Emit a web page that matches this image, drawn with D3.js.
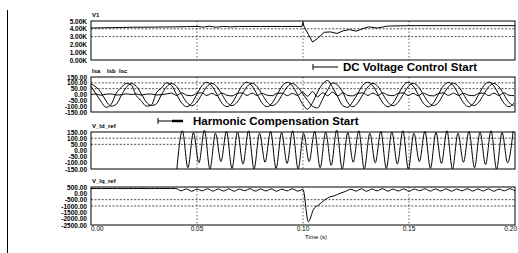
<!DOCTYPE html>
<html>
<head>
<meta charset="utf-8">
<script src="https://cdn.jsdelivr.net/npm/d3@7"></script>
<style>
  body { margin: 0; background: #fff; }
  svg text { font-family: "Liberation Sans", Arial, sans-serif; fill: #000; }
</style>
</head>
<body>
<div id="chart"></div>
<script>
// ---- data ----
const timeTicks = [0, 0.05, 0.10, 0.15, 0.20];
const timeTickLabels = ["0.00", "0.05", "0.10", "0.15", "0.20"];

// panel 1: V1 (dc voltage)
const v1Ticks = [5000, 4000, 3000, 2000, 1000, 0];
const v1Time = [0, 0.01, 0.02, 0.03, 0.04, 0.045, 0.05, 0.053, 0.056, 0.059, 0.062, 0.066, 0.07, 0.08, 0.09,
  0.0995, 0.1, 0.1005, 0.1025, 0.1045, 0.107, 0.11, 0.113, 0.116, 0.119, 0.122, 0.125, 0.128, 0.131, 0.135,
  0.14, 0.15, 0.17, 0.2];
const v1Val = [4100, 4150, 4200, 4220, 4250, 4280, 4300, 4220, 4330, 4200, 4300, 4250, 4300, 4300, 4300,
  4300, 4850, 4300, 3300, 2300, 2800, 3550, 3600, 3400, 3750, 3900, 3700, 4000, 4250, 4100,
  4350, 4400, 4400, 4400];

// panel 2: source currents, sampled every 0.002375 s from t = 0
const curStep = 0.002375;
const curTicks = [150, 100, 50, 0, -50, -100, -150];
const curNames = ["Isa", "Isb", "Isc"];
const isa = [70, 5, -60, -110, -85, 10, 60, 95,
  80, -10, -55, -100, -90, 15, 55, 100,
  78, 0, -72, -105, -76, 0, 74, 105,
  74, 2, -74, -104, -74, 0, 76, 106,
  72, 0, -74, -105, -72, 2, 74, 104,
  74, 0, -80, -125, -70, 20, 90, 120,
  60, -20, -95, -110, -60, 10, 80, 105,
  74, 0, -74, -105, -74, 0, 74, 105,
  72, 0, -74, -106, -74, 2, 74, 104,
  74, 0, -72, -105, -74, 0, 74, 106,
  74, 0, -74, -105, -74];
const isb = [90, 65, 15, -55, -100, -85, -10, 60,
  95, 70, 5, -65, -95, -80, 0, 65,
  95, 68, 0, -66, -96, -68, 0, 67,
  95, 66, 2, -68, -95, -67, 0, 68,
  96, 67, 0, -66, -95, -68, 0, 66,
  95, 66, 10, -50, -100, -115, -40, 40,
  100, 80, 20, -70, -105, -70, 0, 65,
  95, 67, 0, -67, -96, -67, 0, 67,
  95, 68, 0, -66, -95, -68, 2, 66,
  96, 67, 0, -67, -95, -66, 0, 67,
  95, 67, 0, -67, -95];
const isc = [0, 4, -6, 3, 5, -4, -3, 6,
  0, 5, -5, 3, 4, -4, -2, 5,
  12, -8, 14, -6, -10, 10, 14, -8,
  10, -10, 12, -6, -12, 8, 14, -8,
  12, -8, 10, -6, -10, 10, 12, -10,
  10, -8, 20, -15, 25, -20, 15, -10,
  20, -12, 15, -8, -12, 10, 14, -8,
  12, -8, 14, -6, -10, 10, 14, -8,
  10, -10, 12, -6, -12, 8, 14, -8,
  12, -8, 10, -6, -10, 10, 12, -10,
  12, -8, 14, -6, -10];

// panel 3: V_ld_ref, peaks/troughs every 0.0026 s from t = 0.0405
const vldStart = 0.0405;
const vldStep = 0.0026;
const vldTicks = [150, 100, 50, 0, -50, -100, -150];
const vldRef = [-150, 160, -140, 145, -100, 165, -150, 140, -90, 155,
  -145, 150, -110, 160, -150, 140, -95, 155, -145, 145,
  -105, 160, -150, 140, -90, 155, -140, 150, -120, 165,
  -150, 145, -95, 160, -150, 140, -100, 155, -145, 150,
  -110, 160, -150, 140, -90, 155, -145, 145, -105, 160,
  -150, 140, -95, 155, -140, 150, -115, 160, -150, 145,
  -100, 155];

// panel 4: V_lq_ref, sampled every 0.0025 s from t = 0
const vlqStep = 0.0025;
const vlqTicks = [500, 0, -500, -1000, -1500, -2000, -2500];
const vlqRef = [380, 380, 375, 380, 385, 380, 375, 380, 380, 385, 380, 375, 380, 380, 385, 380,
  380, 200, 350, 170, 330, 200, 360, 180, 340, 190, 350, 170, 330, 210, 360, 180,
  340, 190, 350, 170, 330, 200, 360, 180,
  300, -2250, -1250, -900, -550, -300, -180, 0, 150,
  320, 180, 350, 170, 340, 200, 360, 180, 330, 190, 350, 170, 340, 210, 360, 180,
  340, 190, 350, 170, 330, 200, 360, 180, 340, 190, 350, 170, 330, 200, 360, 180];

// ---- layout ----
const w = 518;
const h = 253;
const x = d3.scaleLinear().domain([0, 0.2]).range([91, 515]);

const pairs = (vals, t0, step) => vals.map((v, i) => [t0 + i * step, v]);

const panels = [
  { title: ["V1"], top: 21, bottom: 60, domain: [0, 5000], ticks: v1Ticks,
    fmt: d => (d / 1000).toFixed(2) + "K", grid: [4000, 3000], curve: d3.curveLinear,
    series: [v1Time.map((t, i) => [t, v1Val[i]])] },
  { title: curNames, top: 77, bottom: 112, domain: [-150, 150], ticks: curTicks,
    fmt: d => d.toFixed(2), grid: [100, 50], curve: d3.curveMonotoneX,
    series: [pairs(isa, 0, curStep), pairs(isb, 0, curStep), pairs(isc, 0, curStep)] },
  { title: ["V_ld_ref"], top: 132, bottom: 169, domain: [-150, 150], ticks: vldTicks,
    fmt: d => d.toFixed(2), grid: [100, 50], curve: d3.curveMonotoneX,
    series: [pairs(vldRef, vldStart, vldStep)] },
  { title: ["V_lq_ref"], top: 187, bottom: 225, domain: [-2500, 500], ticks: vlqTicks,
    fmt: d => d.toFixed(2), grid: [-500, -1000], curve: d3.curveMonotoneX,
    series: [pairs(vlqRef, 0, vlqStep)] }
];

const svg = d3.select("#chart")
  .append("svg")
  .attr("width", w)
  .attr("height", h);

// left page edge of the scan
svg.append("line")
  .attr("x1", 7.5).attr("x2", 7.5)
  .attr("y1", 10).attr("y2", h)
  .attr("stroke", "#000").attr("stroke-width", 1);

panels.forEach(function (p) {
  const y = d3.scaleLinear().domain(p.domain).range([p.bottom, p.top]);
  const g = svg.append("g");

  // dotted grid
  g.selectAll(".hgrid")
    .data(p.grid)
    .enter()
    .append("line")
    .attr("x1", x(0)).attr("x2", x(0.2))
    .attr("y1", d => y(d)).attr("y2", d => y(d))
    .attr("stroke", "#222").attr("stroke-width", 0.8)
    .attr("stroke-dasharray", "2,1.6");

  g.selectAll(".vgrid")
    .data([0.05, 0.10, 0.15])
    .enter()
    .append("line")
    .attr("x1", d => x(d)).attr("x2", d => x(d))
    .attr("y1", p.top).attr("y2", p.bottom)
    .attr("stroke", "#222").attr("stroke-width", 0.7)
    .attr("stroke-dasharray", "1.5,2");

  // traces
  const line = d3.line()
    .x(d => x(d[0]))
    .y(d => y(d[1]))
    .curve(p.curve);

  g.selectAll(".trace")
    .data(p.series)
    .enter()
    .append("path")
    .attr("d", line)
    .attr("fill", "none")
    .attr("stroke", "#000")
    .attr("stroke-width", 1);

  // box
  g.append("rect")
    .attr("x", x(0)).attr("y", p.top)
    .attr("width", x(0.2) - x(0)).attr("height", p.bottom - p.top)
    .attr("fill", "none").attr("stroke", "#000").attr("stroke-width", 1);

  // y axis labels
  const yAxis = d3.axisLeft(y)
    .tickValues(p.ticks)
    .tickFormat(p.fmt)
    .tickSize(0)
    .tickPadding(4);

  const ax = g.append("g")
    .attr("transform", `translate(${x(0)},0)`)
    .call(yAxis);
  ax.select(".domain").remove();
  ax.selectAll("text")
    .style("font-size", "6.5px")
    .style("font-weight", "bold")
    .attr("fill", "#000");

  // title(s)
  const titleX = [92, 107, 119];
  g.selectAll(".title")
    .data(p.title)
    .enter()
    .append("text")
    .attr("x", (d, i) => titleX[i])
    .attr("y", p.top - 4)
    .style("font-size", "6px")
    .style("font-weight", "bold")
    .text(d => d);
});

// x axis labels
svg.selectAll(".xlab")
  .data(timeTicks)
  .enter()
  .append("text")
  .attr("x", (d, i) => i === 0 ? x(d) : (i === timeTicks.length - 1 ? 517 : x(d)))
  .attr("y", 231)
  .attr("text-anchor", (d, i) => i === 0 ? "start" : (i === timeTicks.length - 1 ? "end" : "middle"))
  .style("font-size", "6.5px")
  .text((d, i) => timeTickLabels[i]);

svg.append("text")
  .attr("x", 316).attr("y", 239)
  .attr("text-anchor", "middle")
  .style("font-size", "6px")
  .text("Time (s)");

// annotations
svg.append("line")
  .attr("x1", 313).attr("x2", 338).attr("y1", 67).attr("y2", 67)
  .attr("stroke", "#000").attr("stroke-width", 1);
svg.append("line")
  .attr("x1", 313).attr("x2", 313).attr("y1", 64).attr("y2", 70)
  .attr("stroke", "#000").attr("stroke-width", 1);
svg.append("text")
  .attr("x", 343).attr("y", 71)
  .style("font-size", "11.5px")
  .style("font-weight", "bold")
  .text("DC Voltage Control Start");

svg.append("line")
  .attr("x1", 158).attr("x2", 183).attr("y1", 121).attr("y2", 121)
  .attr("stroke", "#000").attr("stroke-width", 1);
svg.append("line")
  .attr("x1", 172).attr("x2", 183).attr("y1", 121).attr("y2", 121)
  .attr("stroke", "#000").attr("stroke-width", 2.5);
svg.append("line")
  .attr("x1", 158).attr("x2", 158).attr("y1", 118).attr("y2", 124)
  .attr("stroke", "#000").attr("stroke-width", 1);
svg.append("text")
  .attr("x", 193).attr("y", 125)
  .style("font-size", "11.5px")
  .style("font-weight", "bold")
  .text("Harmonic Compensation Start");
</script>
</body>
</html>
